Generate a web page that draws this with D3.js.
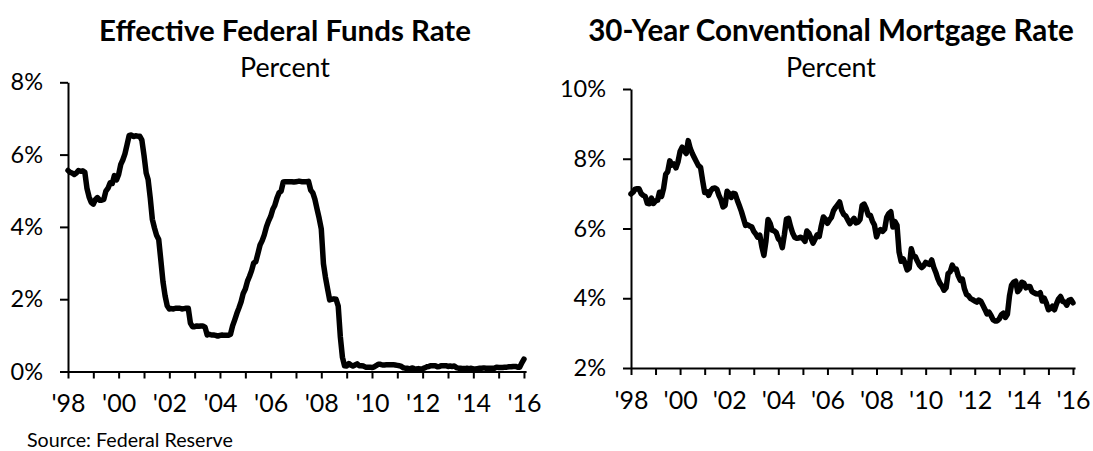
<!DOCTYPE html>
<html>
<head>
<meta charset="utf-8">
<script src="https://cdn.jsdelivr.net/npm/d3@7"></script>
<style>
  html, body { margin: 0; padding: 0; background: #fff; }
  svg { display: block; }
  text { font-family: Lato, "Open Sans", sans-serif; fill: #000; }
</style>
</head>
<body>
<svg id="chart" width="1093" height="451"></svg>
<script>
// ---------------- DATA ----------------
const startYear = 1998;   // monthly series, Jan 1998 .. Jan 2016

const fedFunds = [
  5.56, 5.51, 5.49, 5.45, 5.49, 5.56, 5.54, 5.55, 5.51, 5.07, 4.83, 4.68,
  4.63, 4.76, 4.81, 4.74, 4.74, 4.76, 4.99, 5.07, 5.22, 5.20, 5.42, 5.30,
  5.45, 5.73, 5.85, 6.02, 6.27, 6.53, 6.54, 6.50, 6.52, 6.51, 6.51, 6.40,
  5.98, 5.49, 5.31, 4.80, 4.21, 3.97, 3.77, 3.65, 3.07, 2.49, 2.09, 1.82,
  1.73, 1.74, 1.73, 1.75, 1.75, 1.75, 1.73, 1.74, 1.75, 1.75, 1.34, 1.24,
  1.24, 1.26, 1.25, 1.26, 1.26, 1.22, 1.01, 1.03, 1.01, 1.01, 1.00, 0.98,
  1.00, 1.01, 1.00, 1.00, 1.00, 1.03, 1.26, 1.43, 1.61, 1.76, 1.93, 2.16,
  2.28, 2.50, 2.63, 2.79, 3.00, 3.04, 3.26, 3.50, 3.62, 3.78, 4.00, 4.16,
  4.29, 4.49, 4.59, 4.79, 4.94, 4.99, 5.24, 5.25, 5.25, 5.25, 5.25, 5.24,
  5.25, 5.26, 5.26, 5.25, 5.25, 5.25, 5.26, 5.02, 4.94, 4.76, 4.49, 4.24,
  3.94, 2.98, 2.61, 2.28, 1.98, 2.00, 2.01, 2.00, 1.81, 0.97, 0.39, 0.16,
  0.15, 0.22, 0.18, 0.15, 0.18, 0.21, 0.16, 0.16, 0.15, 0.12, 0.12, 0.12,
  0.11, 0.13, 0.16, 0.20, 0.20, 0.18, 0.18, 0.19, 0.19, 0.19, 0.19, 0.18,
  0.17, 0.16, 0.14, 0.10, 0.09, 0.09, 0.07, 0.10, 0.08, 0.07, 0.08, 0.07,
  0.08, 0.10, 0.13, 0.14, 0.16, 0.16, 0.16, 0.13, 0.14, 0.16, 0.16, 0.16,
  0.14, 0.15, 0.14, 0.15, 0.11, 0.09, 0.09, 0.08, 0.08, 0.09, 0.08, 0.09,
  0.07, 0.07, 0.08, 0.09, 0.09, 0.10, 0.09, 0.09, 0.09, 0.09, 0.09, 0.12,
  0.11, 0.11, 0.11, 0.12, 0.12, 0.13, 0.13, 0.14, 0.14, 0.12, 0.12, 0.24,
  0.34
];

const mortgage = [
  6.99, 7.04, 7.13, 7.14, 7.14, 7.00, 6.95, 6.92, 6.72, 6.71, 6.87, 6.72,
  6.79, 6.81, 7.04, 6.92, 7.15, 7.55, 7.63, 7.94, 7.82, 7.85, 7.74, 7.91,
  8.21, 8.33, 8.24, 8.15, 8.52, 8.29, 8.15, 8.03, 7.91, 7.80, 7.75, 7.38,
  7.03, 7.05, 6.95, 7.08, 7.15, 7.16, 7.13, 6.95, 6.82, 6.62, 6.66, 7.07,
  7.00, 6.89, 7.01, 6.99, 6.81, 6.65, 6.49, 6.29, 6.09, 6.11, 6.07, 6.05,
  5.92, 5.84, 5.75, 5.81, 5.48, 5.23, 5.63, 6.26, 6.15, 5.95, 5.93, 5.88,
  5.71, 5.64, 5.45, 5.83, 6.27, 6.29, 6.06, 5.87, 5.75, 5.72, 5.73, 5.75,
  5.71, 5.63, 5.93, 5.86, 5.72, 5.58, 5.70, 5.82, 5.77, 6.07, 6.33, 6.27,
  6.15, 6.25, 6.32, 6.51, 6.60, 6.68, 6.76, 6.52, 6.40, 6.36, 6.24, 6.14,
  6.22, 6.29, 6.16, 6.18, 6.26, 6.66, 6.70, 6.57, 6.38, 6.38, 6.21, 6.10,
  5.76, 5.92, 5.97, 5.92, 5.98, 6.32, 6.43, 6.48, 6.04, 6.20, 6.09, 5.33,
  5.06, 5.13, 5.00, 4.81, 4.86, 5.42, 5.22, 5.19, 5.06, 4.95, 4.88, 4.93,
  5.03, 4.99, 4.97, 5.10, 4.89, 4.74, 4.56, 4.43, 4.35, 4.23, 4.30, 4.71,
  4.76, 4.95, 4.84, 4.84, 4.64, 4.51, 4.55, 4.27, 4.11, 4.07, 3.99, 3.96,
  3.92, 3.89, 3.95, 3.91, 3.80, 3.68, 3.55, 3.60, 3.50, 3.38, 3.35, 3.35,
  3.41, 3.53, 3.57, 3.45, 3.54, 4.07, 4.37, 4.46, 4.49, 4.19, 4.26, 4.46,
  4.43, 4.30, 4.34, 4.34, 4.19, 4.16, 4.13, 4.12, 4.16, 3.92, 4.00, 3.86,
  3.67, 3.71, 3.77, 3.67, 3.84, 3.98, 4.05, 3.91, 3.89, 3.80, 3.94, 3.96,
  3.87
];

const xTickYears   = d3.range(1998, 2017);            // a tick mark every year
const xLabelYears  = [1998, 2000, 2002, 2004, 2006, 2008, 2010, 2012, 2014, 2016];
const xTickLabels  = ["'98", "'00", "'02", "'04", "'06", "'08", "'10", "'12", "'14", "'16"];
const yTicksLeft   = [0, 2, 4, 6, 8];
const yTicksRight  = [2, 4, 6, 8, 10];
const titles       = ["Effective Federal Funds Rate", "30-Year Conventional Mortgage Rate"];
const subtitle     = "Percent";
const sourceNote   = "Source: Federal Reserve";

// ---------------- DRAW ----------------
const svg = d3.select("#chart");
const monthDate = i => new Date(startYear, i, 1);

function fitFont(sel, target, start) {
  sel.style("font-size", start + "px");
  const w = sel.node().getComputedTextLength();
  sel.style("font-size", (start * target / w).toFixed(2) + "px");
}

function panel(cfg) {
  const g = svg.append("g");
  const x = d3.scaleTime()
    .domain([new Date(1998, 0, 1), new Date(2016, 1, 1)])
    .range([cfg.x0, cfg.x0 + (cfg.x16 - cfg.x0) * 217 / 216]);
  const y = d3.scaleLinear().domain(cfg.yDomain).range([cfg.yBottom, cfg.yTop]);

  // title + subtitle
  const t = g.append("text").attr("x", cfg.titleX).attr("y", 41)
    .attr("text-anchor", "middle").style("font-weight", 700).text(cfg.title);
  fitFont(t, cfg.titleW, 28);
  const s = g.append("text").attr("x", cfg.titleX).attr("y", 77)
    .attr("text-anchor", "middle").text(subtitle);
  fitFont(s, 90, 24);

  // y axis
  const ya = g.append("g").attr("transform", `translate(${cfg.x0},0)`)
    .call(d3.axisLeft(y).tickValues(cfg.yTicks).tickFormat(d => d + "%")
      .tickSize(8).tickSizeOuter(0).tickPadding(17));
  ya.selectAll("text").style("font-size", "23.5px").style("font-family", "Lato, sans-serif").attr("fill", "#000");

  // x axis
  const labelOf = yr => {
    const k = xLabelYears.indexOf(yr);
    return k >= 0 ? xTickLabels[k] : "";
  };
  const xa = g.append("g").attr("transform", `translate(0,${cfg.yBottom})`)
    .call(d3.axisBottom(x).tickValues(xTickYears.map(yr => new Date(yr, 0, 1)))
      .tickFormat(d => labelOf(d.getFullYear()))
      .tickSize(7).tickSizeOuter(0).tickPadding(16));
  xa.selectAll("text").style("font-size", "25px").style("font-family", "Lato, sans-serif").attr("fill", "#000");

  [ya, xa].forEach(a => {
    a.selectAll("path, line").attr("stroke", "#000").attr("stroke-width", 2);
  });

  // data line
  const line = d3.line().x((d, i) => x(monthDate(i))).y(d => y(d));
  g.append("path").datum(cfg.values)
    .attr("fill", "none").attr("stroke", "#000")
    .attr("stroke-width", 5.5).attr("stroke-linejoin", "round").attr("stroke-linecap", "round")
    .attr("d", line);
}

panel({
  title: titles[0], titleX: 285, titleW: 372,
  x0: 68, x16: 524, yTop: 82.3, yBottom: 371.5,
  yDomain: [0, 8], yTicks: yTicksLeft, values: fedFunds
});
panel({
  title: titles[1], titleX: 831, titleW: 486,
  x0: 631, x16: 1073, yTop: 89, yBottom: 368,
  yDomain: [2, 10], yTicks: yTicksRight, values: mortgage
});

const src = svg.append("text").attr("x", 27).attr("y", 447).text(sourceNote);
fitFont(src, 206, 18);
</script>
</body>
</html>
